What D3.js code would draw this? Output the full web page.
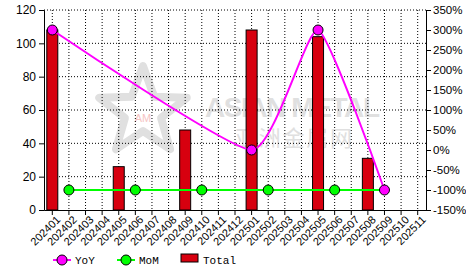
<!DOCTYPE html>
<html>
<head>
<meta charset="utf-8">
<script src="https://cdn.jsdelivr.net/npm/d3@7"></script>
<style>
  body { margin: 0; background: #fff; }
  svg { display: block; }
</style>
</head>
<body>
<div id="chart"></div>
<script>
// months on the x axis
var months = ["202401","202402","202403","202404","202405","202406","202407","202408",
      "202409","202410","202411","202412","202501","202502","202503","202504",
      "202505","202506","202507","202508","202509","202510","202511"];

// bar totals (left axis)
var total = [108, 0, 0, 0, 26, 0, 0, 0, 48, 0, 0, 0, 108, 0, 0, 0, 104, 0, 0, 31, 0, 0, 0];

// YoY % (right axis), null = no value
var yoy = [300, null, null, null, null, null, null, null, null, null, null, null,
      0, null, null, null, 300, null, null, null, -100, null, null];

// MoM % (right axis)
var mom = [null, -100, -100, -100, -100, -100, -100, -100, -100, -100, -100, -100,
      -100, -100, -100, -100, -100, -100, -100, -100, -100, null, null];

var leftTicks = [0, 20, 40, 60, 80, 100, 120];
var rightTicks = [-150, -100, -50, 0, 50, 100, 150, 200, 250, 300, 350];

var W = 466, H = 272;
var margin = { top: 10, right: 40, bottom: 62, left: 44 },
      width = W - margin.left - margin.right,
      height = H - margin.top - margin.bottom;

var svg = d3.select("#chart").append("svg")
      .attr("width", W).attr("height", H)
      .style("font-family", "Arial, 'Liberation Sans', sans-serif");

var g = svg.append("g")
      .attr("transform", "translate(" + margin.left + "," + margin.top + ")");

var x = d3.scaleBand().domain(months).range([0, width]);
var cx = function (m) { return x(m) + x.bandwidth() / 2; };
var y = d3.scaleLinear().domain([0, 120]).range([height, 0]);
var y2 = d3.scaleLinear().domain([-150, 350]).range([height, 0]);

// watermark
var wm = g.append("g");
var star = d3.range(10).map(function (i) {
      var a = -Math.PI / 2 + i * Math.PI / 5;
      var r = i % 2 ? 19 : 46;
      return [99 + r * Math.cos(a), 102 + r * Math.sin(a)];
});
wm.append("polygon").attr("points", star.join(" "))
      .attr("fill", "none").attr("stroke", "#e0e0e0").attr("stroke-width", 8)
      .attr("stroke-linejoin", "round");
wm.append("text").attr("x", 99).attr("y", 112).attr("text-anchor", "middle")
      .attr("font-size", 11).attr("fill", "#f6c4c4").text("AM");
wm.append("text").attr("x", 161).attr("y", 107)
      .attr("font-size", 28).attr("font-weight", "bold").attr("fill", "#e0e0e0")
      .attr("textLength", 175).attr("lengthAdjust", "spacing").text("ASIAN METAL");
wm.append("text").attr("x", 191).attr("y", 136)
      .attr("font-size", 22).attr("fill", "#e0e0e0")
      .attr("font-family", "'Noto Sans CJK SC'")
      .attr("textLength", 117).attr("lengthAdjust", "spacing").text("亚洲金属网");

// grid
g.append("g").selectAll("line").data(leftTicks.slice(1)).enter().append("line")
      .attr("x1", 0).attr("x2", width)
      .attr("y1", function (d) { return y(d); }).attr("y2", function (d) { return y(d); })
      .attr("stroke", "#000").attr("stroke-dasharray", "1,2");
g.append("g").selectAll("line").data(months).enter().append("line")
      .attr("x1", cx).attr("x2", cx)
      .attr("y1", 0).attr("y2", height)
      .attr("stroke", "#000").attr("stroke-dasharray", "1,2");

// bars
months.forEach(function (m, i) {
      if (total[i] <= 0) return;
      g.append("rect")
            .attr("x", cx(m) - 5.5)
            .attr("y", y(total[i]))
            .attr("width", 11)
            .attr("height", height - y(total[i]))
            .attr("fill", "#d7000f")
            .attr("stroke", "#000").attr("stroke-width", 1);
});

// axes
var axL = g.append("g").call(d3.axisLeft(y).tickValues(leftTicks).tickSize(5));
axL.selectAll("text").attr("font-size", 12).attr("fill", "#000");
var axR = g.append("g").attr("transform", "translate(" + width + ",0)")
      .call(d3.axisRight(y2).tickValues(rightTicks).tickSize(5).tickPadding(2)
            .tickFormat(function (d) { return d + "%"; }));
axR.selectAll("text").attr("font-size", 11.5).attr("fill", "#000");
var axB = g.append("g").attr("transform", "translate(0," + height + ")")
      .call(d3.axisBottom(x).tickSize(5).tickSizeOuter(0));
axB.selectAll("text").attr("font-size", 11).attr("fill", "#000")
      .attr("text-anchor", "end")
      .attr("transform", "rotate(-45)")
      .attr("dx", "-0.1em").attr("dy", "0.5em");
[axL, axR, axB].forEach(function (a) {
      a.select(".domain").attr("stroke", "#000");
      a.selectAll(".tick line").attr("stroke", "#000");
});

// lines
var momPts = [], yoyPts = [];
months.forEach(function (m, i) {
      if (mom[i] != null) momPts.push([cx(m), y2(mom[i]), i]);
      if (yoy[i] != null) yoyPts.push([cx(m), y2(yoy[i]), i]);
});

g.append("path").datum(momPts)
      .attr("d", d3.line())
      .attr("fill", "none").attr("stroke", "#00ff00").attr("stroke-width", 2);
g.append("path").datum(yoyPts)
      .attr("d", d3.line().curve(d3.curveCardinal.tension(0.5)))
      .attr("fill", "none").attr("stroke", "#ff00ff").attr("stroke-width", 2);

// markers: every 4th point
momPts.filter(function (p, k) { return k % 4 == 0; }).forEach(function (p) {
      g.append("circle").attr("cx", p[0]).attr("cy", p[1]).attr("r", 5)
            .attr("fill", "#00ff00").attr("stroke", "#000");
});
yoyPts.forEach(function (p) {
      g.append("circle").attr("cx", p[0]).attr("cy", p[1]).attr("r", 5)
            .attr("fill", "#ff00ff").attr("stroke", "#000");
});

// legend
var leg = svg.append("g").attr("font-family", "'Liberation Mono', 'DejaVu Sans Mono', monospace")
      .attr("font-size", 11);
var items = [
      { name: "YoY", color: "#ff00ff", x: 53, type: "line" },
      { name: "MoM", color: "#00ff00", x: 117, type: "line" },
      { name: "Total", color: "#d7000f", x: 181, type: "bar" }
];
items.forEach(function (it) {
      if (it.type == "line") {
            leg.append("line").attr("x1", it.x).attr("x2", it.x + 18)
                  .attr("y1", 260).attr("y2", 260)
                  .attr("stroke", it.color).attr("stroke-width", 2);
            leg.append("circle").attr("cx", it.x + 9).attr("cy", 260).attr("r", 5)
                  .attr("fill", it.color).attr("stroke", "#000");
            leg.append("text").attr("x", it.x + 22).attr("y", 264).text(it.name);
      } else {
            leg.append("rect").attr("x", it.x).attr("y", 254).attr("width", 17).attr("height", 8)
                  .attr("fill", it.color).attr("stroke", "#000");
            leg.append("text").attr("x", it.x + 22).attr("y", 264).text(it.name);
      }
});
</script>
</body>
</html>
